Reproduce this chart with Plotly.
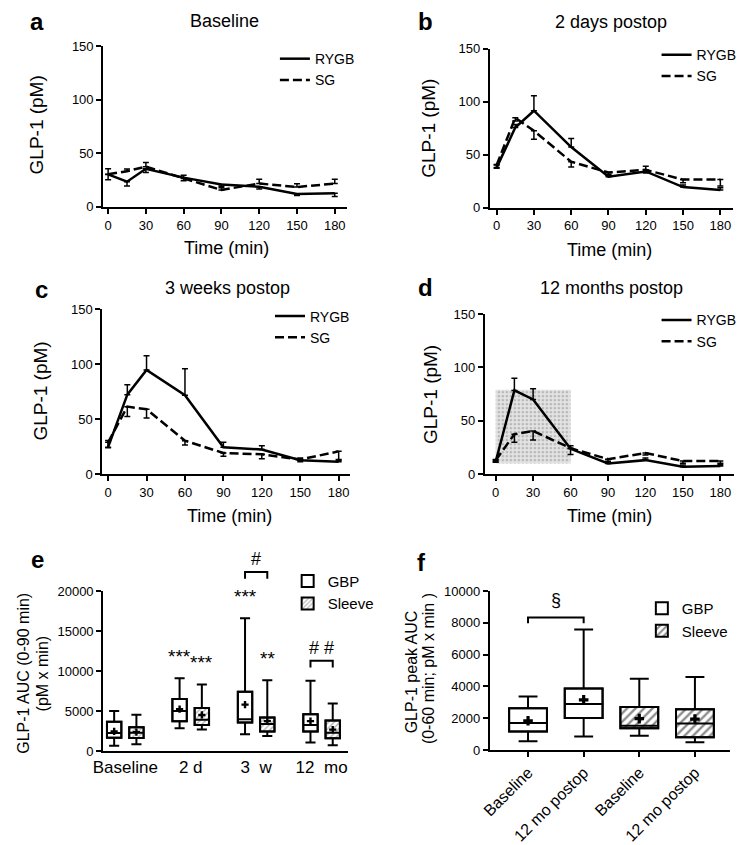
import plotly.graph_objects as go

W, H = 742, 845
FONT = "Liberation Sans, Arial, Helvetica, sans-serif"

# ---------------- data: panels a-d (GLP-1, pM) ----------------
time_min = [0, 15, 30, 60, 90, 120, 150, 180]
time_ticks = [0, 30, 60, 90, 120, 150, 180]
glp_ticks = [0, 50, 100, 150]

a_rygb = [30.3, 23.5, 35.5, 27.3, 20.8, 18.8, 12.1, 12.7]
a_rygb_err = [5, 4, 3.5, 3, 1.5, 2, 1.5, 3]
a_sg = [30.5, 33.3, 37.5, 26.4, 15.8, 21.8, 18.5, 21.8]
a_sg_err = [5, 2, 4, 3, 2, 4, 3, 4]

b_rygb = [38, 75.8, 91.7, 57.4, 29.4, 34.4, 19.6, 16.9]
b_rygb_err = [3, 3, 14, 8, 1.5, 5, 2, 2]
b_sg = [40.5, 85, 72.7, 43.5, 33.4, 35.9, 26.7, 26.7]
b_sg_err = [3, 3, 8, 5, 2, 3, 3, 6]

c_rygb = [24.5, 72.3, 94.8, 71.8, 24.5, 22.4, 12.7, 11.2]
c_rygb_err = [6, 9, 13, 24, 4.5, 3.5, 2, 2]
c_sg = [29, 61.4, 59, 30.4, 19.2, 18, 13.3, 20.7]
c_sg_err = [5, 9, 8, 4, 3, 4, 2, 8]

d_rygb = [11.6, 78.5, 70, 23.7, 10, 13.1, 7, 7.6]
d_rygb_err = [2, 11.5, 10, 3, 1.5, 2, 1.5, 1.5]
d_sg = [13, 37.4, 40.5, 24.3, 14, 19.8, 12.2, 12.2]
d_sg_err = [2, 7.5, 8.5, 6, 2, 2, 2, 2]

d_peak_window = [0, 60]   # min
d_peak_band = [10, 79]    # pM

# ---------------- data: panel e (AUC 0-90 min) ----------------
e_groups = ["Baseline", "2 d", "3\u00a0\u00a0w", "12\u00a0\u00a0mo"]
e_ticks = [0, 5000, 10000, 15000, 20000]
e_gbp_low = [650, 2850, 2110, 1060]
e_gbp_q1 = [1670, 3740, 3580, 2440]
e_gbp_med = [2240, 5000, 3980, 3250]
e_gbp_q3 = [3660, 6500, 7400, 4590]
e_gbp_high = [5000, 9100, 16620, 8780]
e_gbp_mean = [2450, 5240, 5810, 3740]
e_slv_low = [850, 2680, 1870, 730]
e_slv_q1 = [1630, 3250, 2440, 1590]
e_slv_med = [2300, 3900, 3370, 2280]
e_slv_q3 = [2970, 5370, 4190, 3820]
e_slv_high = [4550, 8330, 8860, 5930]
e_slv_mean = [2360, 4510, 3740, 2680]
e_stars_gbp = ["", "***", "***", ""]
e_stars_slv = ["", "***", "**", ""]
e_brackets = [(2, 22400, "#"), (3, 11300, "# #")]   # (group, height, label)

# ---------------- data: panel f (peak AUC 0-60 min) ----------------
f_labels = ["Baseline", "12 mo postop", "Baseline", "12 mo postop"]
f_ticks = [0, 2000, 4000, 6000, 8000, 10000]
f_gbp_low = [550, 860]
f_gbp_q1 = [1160, 2020]
f_gbp_med = [1710, 2900]
f_gbp_q3 = [2630, 3880]
f_gbp_high = [3370, 7590]
f_gbp_mean = [1840, 3160]
f_slv_low = [900, 490]
f_slv_q1 = [1370, 800]
f_slv_med = [1530, 1670]
f_slv_q3 = [2710, 2570]
f_slv_high = [4490, 4590]
f_slv_mean = [1980, 1950]
f_brackets = [(0, 1, 8340, "\u00a7")]

# ---------------- helpers ----------------
def X(px):
    return px / W

def Y(py):
    return 1 - py / H

def txt(text, xpx, ypx, size, bold=False, angle=0):
    return dict(text=f"<b>{text}</b>" if bold else text, x=X(xpx), y=Y(ypx),
                xref="paper", yref="paper", xanchor="center", yanchor="middle",
                showarrow=False, textangle=angle,
                font=dict(size=size, family=FONT, color="black"))

axis_common = dict(showline=True, linecolor="black", linewidth=2, ticks="outside",
                   ticklen=5, tickwidth=2, tickcolor="black", showgrid=False,
                   zeroline=False, tickfont=dict(family=FONT, size=13, color="black"))

fig = go.Figure()
annotations = []
shapes = []
layout_axes = {}

# ---------------- panels a-d ----------------
line_panels = [
    dict(letter="a", title="Baseline", rygb=a_rygb, rygb_err=a_rygb_err, sg=a_sg, sg_err=a_sg_err,
         rygb_up=False, band=False,
         geo=dict(ax=95, x0=100, x180=331, xend=343, ytop=40, ybot=205),
         pos=dict(letter=(28, 15), title=(219, 14), ytitle=(28, 121), xtitle=(221, 247), legend=(270, 37))),
    dict(letter="b", title="2 days postop", rygb=b_rygb, rygb_err=b_rygb_err, sg=b_sg, sg_err=b_sg_err,
         rygb_up=True, band=False,
         geo=dict(ax=489, x0=496, x180=724, xend=737, ytop=43, ybot=206),
         pos=dict(letter=(423, 15), title=(613, 15), ytitle=(427, 124), xtitle=(611, 249), legend=(659, 33))),
    dict(letter="c", title="3 weeks postop", rygb=c_rygb, rygb_err=c_rygb_err, sg=c_sg, sg_err=c_sg_err,
         rygb_up=True, band=False,
         geo=dict(ax=94, x0=100, x180=335, xend=347, ytop=310, ybot=479),
         pos=dict(letter=(32, 290), title=(222, 288), ytitle=(31, 394), xtitle=(224, 522), legend=(265, 301))),
    dict(letter="d", title="12 months postop", rygb=d_rygb, rygb_err=d_rygb_err, sg=d_sg, sg_err=d_sg_err,
         rygb_up=True, band=True,
         geo=dict(ax=484, x0=495, x180=724, xend=738, ytop=315, ybot=479),
         pos=dict(letter=(423, 288), title=(613, 288), ytitle=(428, 397), xtitle=(611, 522), legend=(659, 305))),
]

legend_common = dict(bgcolor="rgba(0,0,0,0)", font=dict(family=FONT, size=14, color="black"),
                     xanchor="left", yanchor="top", itemwidth=30, tracegroupgap=0)

for i, p in enumerate(line_panels, start=1):
    sfx = "" if i == 1 else str(i)
    xa, ya, leg = "x" + sfx, "y" + sfx, "legend" + sfx
    zeros = [0] * len(time_min)
    if p["band"]:
        wx0, wx1 = d_peak_window
        by0, by1 = d_peak_band
        fig.add_trace(go.Scatter(
            x=[wx0, wx1, wx1, wx0, wx0], y=[by0, by0, by1, by1, by0], mode="lines",
            fill="toself", line=dict(width=0), fillcolor="#dcdcdc",
            fillpattern=dict(shape=".", fgcolor="#8a8a8a", bgcolor="#e4e4e4", size=4, solidity=0.35),
            showlegend=False, hoverinfo="skip", xaxis=xa, yaxis=ya))
    fig.add_trace(go.Scatter(
        x=time_min, y=p["rygb"], mode="lines", name="RYGB",
        line=dict(color="black", width=2.5),
        error_y=dict(type="data", symmetric=False,
                     array=p["rygb_err"] if p["rygb_up"] else zeros,
                     arrayminus=zeros if p["rygb_up"] else p["rygb_err"],
                     color="black", thickness=1.5, width=3),
        xaxis=xa, yaxis=ya, legend=leg))
    fig.add_trace(go.Scatter(
        x=time_min, y=p["sg"], mode="lines", name="SG",
        line=dict(color="black", width=2.5, dash="9px,4px"),
        error_y=dict(type="data", symmetric=False,
                     array=zeros if p["rygb_up"] else p["sg_err"],
                     arrayminus=p["sg_err"] if p["rygb_up"] else zeros,
                     color="black", thickness=1.5, width=3),
        xaxis=xa, yaxis=ya, legend=leg))

    g = p["geo"]
    scale = (g["x180"] - g["x0"]) / 180.0
    lo = -(g["x0"] - g["ax"]) / scale
    hi = 180 + (g["xend"] - g["x180"]) / scale
    layout_axes["xaxis" + sfx] = dict(domain=[X(g["ax"]), X(g["xend"])], range=[lo, hi],
                                      anchor=ya, tickvals=time_ticks, **axis_common)
    layout_axes["yaxis" + sfx] = dict(domain=[Y(g["ybot"]), Y(g["ytop"])], range=[0, 150],
                                      anchor=xa, tickvals=glp_ticks, **axis_common)
    pos = p["pos"]
    annotations.append(txt(p["letter"], *pos["letter"], 24, bold=True))
    annotations.append(txt(p["title"], *pos["title"], 18))
    annotations.append(txt("GLP-1 (pM)", *pos["ytitle"], 19, angle=-90))
    annotations.append(txt("Time (min)", *pos["xtitle"], 18))
    layout_axes[leg] = dict(x=X(pos["legend"][0]), y=Y(pos["legend"][1]), **legend_common)

# ---------------- panel e ----------------
E_AX, E_C0, E_UNIT, E_END, E_TOP, E_BOT, E_MAX = 95, 117.5, 66.7, 345, 599, 763, 20000
E_OFF, E_W = 0.17, 0.22
e_x_gbp = [i - E_OFF for i in range(len(e_groups))]
e_x_slv = [i + E_OFF for i in range(len(e_groups))]

def e_py(v):
    return E_BOT - v / E_MAX * (E_BOT - E_TOP)

F_AX, F_C0, F_UNIT, F_END, F_TOP, F_BOT, F_MAX = 489, 528, 56.7, 734, 599, 762, 10000

def f_py(v):
    return F_BOT - v / F_MAX * (F_BOT - F_TOP)

def add_boxes(xpos, low, q1, med, q3, high, mean, name, pattern, xa, ya, leg, width, ww, msize):
    fig.add_trace(go.Bar(
        x=xpos, y=[b - a for a, b in zip(q1, q3)], base=q1, width=width, name=name,
        marker=dict(color="white", line=dict(color="black", width=2), pattern=pattern),
        xaxis=xa, yaxis=ya, legend=leg, hoverinfo="skip"))
    fig.add_trace(go.Box(
        x=xpos, q1=q1, median=med, q3=q3, lowerfence=low, upperfence=high,
        width=width, whiskerwidth=ww, fillcolor="rgba(0,0,0,0)",
        line=dict(color="black", width=2), boxpoints=False, showlegend=False,
        xaxis=xa, yaxis=ya))
    fig.add_trace(go.Scatter(
        x=xpos, y=mean, mode="markers", marker=dict(symbol="cross", size=msize, color="black"),
        showlegend=False, xaxis=xa, yaxis=ya, hoverinfo="skip"))

e_hatch = dict(shape="/", fgcolor="#666666", bgcolor="white", size=4, solidity=0.35)
add_boxes(e_x_gbp, e_gbp_low, e_gbp_q1, e_gbp_med, e_gbp_q3, e_gbp_high, e_gbp_mean,
          "GBP", dict(shape=""), "x5", "y5", "legend5", E_W, 0.7, 6)
add_boxes(e_x_slv, e_slv_low, e_slv_q1, e_slv_med, e_slv_q3, e_slv_high, e_slv_mean,
          "Sleeve", e_hatch, "x5", "y5", "legend5", E_W, 0.7, 6)

layout_axes["xaxis5"] = dict(domain=[X(E_AX), X(E_END)],
                             range=[-(E_C0 - E_AX) / E_UNIT, (E_END - E_C0) / E_UNIT],
                             anchor="y5", tickvals=list(range(len(e_groups))), ticktext=e_groups,
                             **{**axis_common, "ticks": "", "tickfont": dict(family=FONT, size=17, color="black")})
layout_axes["yaxis5"] = dict(domain=[Y(E_BOT), Y(E_TOP)], range=[0, E_MAX], anchor="x5",
                             tickvals=e_ticks, tickformat="d", **axis_common)
layout_axes["legend5"] = dict(x=X(283), y=Y(572), **{**legend_common, "font": dict(family=FONT, size=15, color="black")})

for xs, highs, stars in [(e_x_gbp, e_gbp_high, e_stars_gbp), (e_x_slv, e_slv_high, e_stars_slv)]:
    for xv, hv, s in zip(xs, highs, stars):
        if s:
            annotations.append(dict(text=s, x=xv, y=Y(e_py(hv) - 27.5 + 5), xref="x5", yref="paper",
                                    xanchor="center", yanchor="middle", showarrow=False,
                                    font=dict(size=19, family=FONT, color="black")))
for gi, hv, lab in e_brackets:
    xl, xr = e_x_gbp[gi], e_x_slv[gi]
    yb, yl = Y(e_py(hv)), Y(e_py(hv) + 7)
    shapes.append(dict(type="path", xref="x5", yref="paper",
                       path=f"M {xl},{yl} L {xl},{yb} L {xr},{yb} L {xr},{yl}",
                       line=dict(color="black", width=2)))
    annotations.append(dict(text=lab, x=(xl + xr) / 2, y=Y(e_py(hv) - 13), xref="x5", yref="paper",
                            xanchor="center", yanchor="middle", showarrow=False,
                            font=dict(size=18, family=FONT, color="black")))

annotations.append(txt("e", 28, 567, 24, bold=True))
annotations.append(txt("GLP-1 AUC (0-90 min)", 13, 683, 16, angle=-90))
annotations.append(txt("(pM x min)", 33, 683, 16, angle=-90))

# ---------------- panel f ----------------
F_W = 0.68
f_x_gbp = [0, 1]
f_x_slv = [2, 3]
f_hatch = dict(shape="/", fgcolor="#1a1a1a", bgcolor="white", size=6, solidity=0.4)
add_boxes(f_x_gbp, f_gbp_low, f_gbp_q1, f_gbp_med, f_gbp_q3, f_gbp_high, f_gbp_mean,
          "GBP", dict(shape=""), "x6", "y6", "legend6", F_W, 0.5, 8)
add_boxes(f_x_slv, f_slv_low, f_slv_q1, f_slv_med, f_slv_q3, f_slv_high, f_slv_mean,
          "Sleeve", f_hatch, "x6", "y6", "legend6", F_W, 0.5, 8)

layout_axes["xaxis6"] = dict(domain=[X(F_AX), X(F_END)],
                             range=[-(F_C0 - F_AX) / F_UNIT, (F_END - F_C0) / F_UNIT],
                             anchor="y6", tickvals=list(range(len(f_labels))), ticktext=f_labels,
                             tickangle=-45,
                             **{**axis_common, "tickfont": dict(family=FONT, size=16, color="black")})
layout_axes["yaxis6"] = dict(domain=[Y(F_BOT), Y(F_TOP)], range=[0, F_MAX], anchor="x6",
                             tickvals=f_ticks, tickformat="d", **axis_common)
layout_axes["legend6"] = dict(x=X(644), y=Y(600), **{**legend_common, "font": dict(family=FONT, size=15, color="black")})

for il, ir, hv, lab in f_brackets:
    yb, yl = Y(f_py(hv)), Y(f_py(hv) + 6)
    shapes.append(dict(type="path", xref="x6", yref="paper",
                       path=f"M {il},{yl} L {il},{yb} L {ir},{yb} L {ir},{yl}",
                       line=dict(color="black", width=2)))
    annotations.append(dict(text=lab, x=(il + ir) / 2, y=Y(f_py(hv) - 18), xref="x6", yref="paper",
                            xanchor="center", yanchor="middle", showarrow=False,
                            font=dict(size=18, family=FONT, color="black")))

annotations.append(txt("f", 419, 570, 24, bold=True))
annotations.append(txt("GLP-1 peak AUC", 409, 682, 16, angle=-90))
annotations.append(txt("(0-60 min; pM x min )", 426, 678, 16, angle=-90))

fig.update_layout(
    width=W, height=H, margin=dict(l=0, r=0, t=0, b=0),
    paper_bgcolor="white", plot_bgcolor="rgba(0,0,0,0)",
    font=dict(family=FONT, color="black"),
    barmode="overlay", boxmode="overlay",
    annotations=annotations, shapes=shapes,
    **layout_axes,
)

fig.write_html("out.html",
               config={"displayModeBar": False},
               post_script="document.body.style.margin='0';document.body.style.overflow='hidden';")
